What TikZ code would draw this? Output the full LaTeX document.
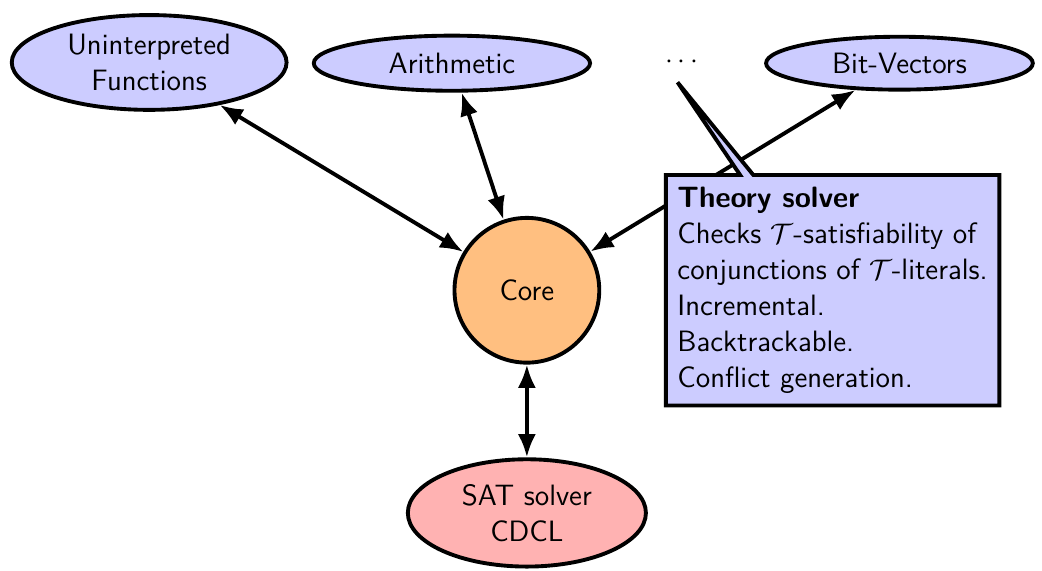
\documentclass[tikz,border=0pt]{standalone}
\usetikzlibrary{arrows.meta,shapes.geometric,shapes.callouts}
\begin{document}
\begin{tikzpicture}[>={Latex[length=9pt,width=7pt]},line width=1.5pt,font=\fontsize{11.4}{14}\selectfont\sffamily,
        theory/.style={ellipse,draw,fill=blue!20,inner sep=0pt,align=center}]
    \useasboundingbox (-7.17,-3.81) rectangle (7.01,3.95);
    \node[circle,draw,fill=orange!50,minimum size=1.97cm] (core) at (0,0) {Core};
    \node[theory,minimum width=3.74cm,minimum height=1.29cm] (uf) at (-5.14,3.10) {Uninterpreted\\Functions};
    \node[theory,minimum width=3.76cm,minimum height=.75cm] (arith) at (-1.02,3.09) {Arithmetic};
    \node (dots) at (2.11,3.10) {$\cdots$};
    \node[theory,minimum width=3.63cm,minimum height=.72cm] (bv) at (5.07,3.09) {Bit-Vectors};
    \node[theory,fill=red!30,minimum width=3.24cm,minimum height=1.46cm] (sat) at (0,-3.03) {SAT solver\\CDCL};
    %===========================================
    \foreach \t in {uf,arith,bv,sat}\draw[<->] (core)--(\t);
    \coordinate (ptr) at (2.05,2.83);
    \node[rectangle callout,callout absolute pointer={(ptr)},callout pointer width=.18cm,
        draw,fill=blue!20,align=left,inner sep=4.5pt] (ts) at (4.16,0)
        {\textbf{Theory solver}\\
        Checks $\mathcal{T}$-satisfiability of\\
        conjunctions of $\mathcal{T}$-literals.\\
        Incremental.\\
        Backtrackable.\\
        Conflict generation.};
\end{tikzpicture}
\end{document}
